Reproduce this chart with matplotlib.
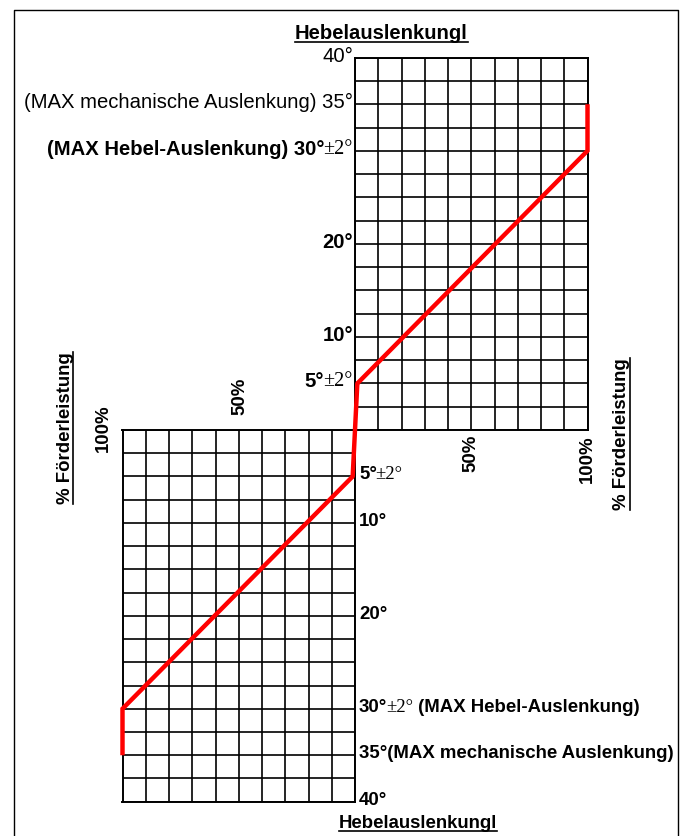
import numpy as np
import matplotlib
matplotlib.use("Agg")
import matplotlib.pyplot as plt
from matplotlib.patches import ConnectionPatch
from matplotlib.lines import Line2D

# ---- data -------------------------------------------------------------
# delivery rate (%) against lever deflection (degrees)
upper_pct = [1, 100, 100]
upper_deg = [5, 30, 35]
lower_pct = [1, 100, 100]
lower_deg = [5, 30, 35]

pct_grid = list(range(0, 101, 10))
deg_grid = list(np.arange(0, 40.01, 2.5))

# angle labels of the upper chart (left side)
up_lab_deg = [40, 35, 30, 20, 10, 5]
up_lab_main = ["40°", "(MAX mechanische Auslenkung) 35°",
               "(MAX Hebel-Auslenkung) 30°", "20°", "10°", "5°"]
up_lab_bold = [False, False, True, True, True, True]
up_lab_tol = ["", "", "±2°", "", "", "±2°"]

# angle labels of the lower chart (right side)
lo_lab_deg = [5, 10, 20, 30, 35, 40]
lo_lab_head = ["5°", "10°", "20°", "30°", "35°(MAX mechanische Auslenkung)", "40°"]
lo_lab_tol = ["±2°", "", "", "±2°", "", ""]
lo_lab_tail = ["", "", "", " (MAX Hebel-Auslenkung)", "", ""]

title_text = "Hebelauslenkungl"
axis_text = "% Förderleistung"

# ---- figure -----------------------------------------------------------
W, H = 687, 836
fig = plt.figure(figsize=(W / 100, H / 100), dpi=100)

SANS = "Liberation Sans"
SERIF = "Liberation Serif"
FS_UP = 14.6
FS_LO = 13.4


def px_box(x0, y0, x1, y1):
    return [x0 / W, 1 - y1 / H, (x1 - x0) / W, (y1 - y0) / H]


def fpx(x, y):
    return (x / W, 1 - y / H)


ax_up = fig.add_axes(px_box(355, 57.7, 587.5, 430))
ax_lo = fig.add_axes(px_box(122.5, 430, 355, 801.7))

for ax in (ax_up, ax_lo):
    ax.set_xticks(pct_grid)
    ax.set_yticks(deg_grid)
    ax.tick_params(length=0, labelbottom=False, labelleft=False)
    ax.grid(True, color="black", lw=1.2)
    ax.set_axisbelow(True)
    for s in ax.spines.values():
        s.set_color("black")
        s.set_linewidth(1.4)

ax_up.set_xlim(0, 100)
ax_up.set_ylim(0, 40)
ax_lo.set_xlim(100, 0)
ax_lo.set_ylim(40, 0)

line_kw = dict(color="#ff0000", lw=3.2, solid_joinstyle="miter",
               solid_capstyle="butt", clip_on=False, zorder=5)
ax_up.plot(upper_pct, upper_deg, **line_kw)
ax_lo.plot(lower_pct, lower_deg, **line_kw)

# link between the two 5° points
con = ConnectionPatch(xyA=(lower_pct[0], lower_deg[0]), coordsA=ax_lo.transData,
                      xyB=(upper_pct[0], upper_deg[0]), coordsB=ax_up.transData,
                      color="#ff0000", lw=3.2, capstyle="round", zorder=5)
fig.add_artist(con)

# ---- angle labels, upper chart ---------------------------------------
for d, main, bold, tol in zip(up_lab_deg, up_lab_main, up_lab_bold, up_lab_tol):
    weight = "bold" if bold else "normal"
    if tol:
        t = ax_up.annotate(tol, xy=(0, d), xycoords=ax_up.transData,
                           xytext=(-2, 1.5), textcoords="offset pixels",
                           ha="right", va="center", family=SERIF,
                           fontsize=FS_UP, annotation_clip=False)
        ax_up.annotate(main, xy=(0, 0), xycoords=t, xytext=(0.5, 0),
                       textcoords="offset pixels", ha="right", va="bottom",
                       family=SANS, fontsize=FS_UP, fontweight=weight,
                       annotation_clip=False)
    else:
        ax_up.annotate(main, xy=(0, d), xycoords=ax_up.transData,
                       xytext=(-2, 1.5), textcoords="offset pixels",
                       ha="right", va="center", family=SANS, fontsize=FS_UP,
                       fontweight=weight, annotation_clip=False)

# ---- angle labels, lower chart ---------------------------------------
for d, head, tol, tail in zip(lo_lab_deg, lo_lab_head, lo_lab_tol, lo_lab_tail):
    prev = ax_lo.annotate(head, xy=(0, d), xycoords=ax_lo.transData,
                          xytext=(4, 1.5), textcoords="offset pixels",
                          ha="left", va="center", family=SANS,
                          fontsize=FS_LO, fontweight="bold",
                          annotation_clip=False)
    if tol:
        prev = ax_lo.annotate(tol, xy=(1, 0), xycoords=prev, xytext=(-1.5, 0),
                              textcoords="offset pixels", ha="left",
                              va="bottom", family=SERIF, fontsize=FS_LO,
                              annotation_clip=False)
    if tail:
        ax_lo.annotate(tail, xy=(1, 0), xycoords=prev, ha="left",
                       va="bottom", family=SANS, fontsize=FS_LO,
                       fontweight="bold", annotation_clip=False)

# ---- percentage labels -----------------------------------------------
pct_kw = dict(rotation=90, family=SANS, fontsize=FS_LO, fontweight="bold",
              annotation_clip=False)
ax_lo.annotate("50%", xy=(50, 0), xycoords=ax_lo.transData, xytext=(1, 15),
               textcoords="offset pixels", ha="center", va="bottom", **pct_kw)
ax_lo.annotate("100%", xy=(-0.084, 1.005), xycoords=ax_lo.transAxes,
               ha="center", va="center", **pct_kw)
for p in (50, 100):
    ax_up.annotate(f"{p}%", xy=(p, 0), xycoords=ax_up.transData,
                   xytext=(0, -5), textcoords="offset pixels",
                   ha="center", va="top", **pct_kw)

# ---- titles ------------------------------------------------------------
underlined = []
underlined.append(fig.text(*fpx(381.5, 39.3), title_text, ha="center",
                           va="baseline", family=SANS, fontsize=FS_UP,
                           fontweight="bold"))
underlined.append(fig.text(*fpx(418, 828), title_text, ha="center",
                           va="baseline", family=SANS, fontsize=FS_LO,
                           fontweight="bold"))
rot_underlined = []
rot_underlined.append(fig.text(*fpx(65, 428), axis_text, ha="center",
                               va="center", rotation=90, family=SANS,
                               fontsize=FS_LO, fontweight="bold"))
rot_underlined.append(fig.text(*fpx(622, 434), axis_text, ha="center",
                               va="center", rotation=90, family=SANS,
                               fontsize=FS_LO, fontweight="bold"))

# underline the titles
fig.canvas.draw()
inv = fig.transFigure.inverted()
for t in underlined:
    bb = t.get_window_extent()
    (x0, y0), (x1, _) = inv.transform([(bb.x0, bb.y0 + 1), (bb.x1, bb.y0 + 1)])
    fig.add_artist(Line2D([x0, x1], [y0, y0], color="black", lw=1.2,
                          transform=fig.transFigure))
for t in rot_underlined:
    bb = t.get_window_extent()
    (x0, y0), (_, y1) = inv.transform([(bb.x1 - 1, bb.y0), (bb.x1 - 1, bb.y1)])
    fig.add_artist(Line2D([x0, x0], [y0, y1], color="black", lw=1.2,
                          transform=fig.transFigure))

# ---- page frame --------------------------------------------------------
fx0, fy0 = fpx(13.5, 9.5)
fx1, fy1 = fpx(677.7, 840)
fig.add_artist(Line2D([fx0, fx0, fx1, fx1], [fy1, fy0, fy0, fy1],
                      color="black", lw=1.0, transform=fig.transFigure))

fig.savefig("out.png", dpi=100)
